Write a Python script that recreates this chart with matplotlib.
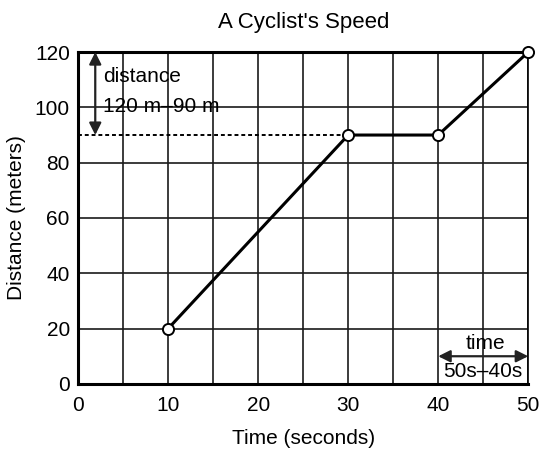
import matplotlib.pyplot as plt

plt.rcParams['font.family'] = ['Liberation Sans', 'DejaVu Sans']

time_s = [10, 30, 40, 50]
distance_m = [20, 90, 90, 120]
x_ticks = [0, 10, 20, 30, 40, 50]
y_ticks = [0, 20, 40, 60, 80, 100, 120]

fig = plt.figure(figsize=(5.39, 4.49), dpi=100)
ax = fig.add_axes([0.145, 0.145, 0.835, 0.739])

ax.set_xlim(0, 50)
ax.set_ylim(0, 120)
ax.set_yticks(y_ticks)
ax.set_xticks(x_ticks)
ax.set_xticks(range(5, 50, 10), minor=True)
ax.grid(True, which='both', color='#1a1a1a', linewidth=1.2)
ax.tick_params(which='both', length=0, labelsize=15, pad=6)
ax.tick_params(axis='x', pad=9)
for s in ax.spines.values():
    s.set_linewidth(2.2)
ax.spines['right'].set_linewidth(1.2)

# dotted guide at 90 m
ax.plot([0, 30], [90, 90], color='black', linestyle=(0, (2, 1.5)), linewidth=1.4, zorder=3)

ax.plot(time_s, distance_m, color='black', linewidth=2.2, zorder=4,
        marker='o', markersize=8, markerfacecolor='white', markeredgecolor='black',
        markeredgewidth=1.4, clip_on=False)

# distance annotation
ax.annotate('', xy=(1.9, 90), xytext=(1.9, 120),
            arrowprops=dict(arrowstyle='<|-|>', color='#222222', lw=1.6, mutation_scale=18,
                            shrinkA=0, shrinkB=0))
ax.text(2.8, 111, 'distance', fontsize=15, va='center', ha='left')
ax.text(2.8, 100.5, '120 m\u201390 m', fontsize=15, va='center', ha='left')

# time annotation
ax.annotate('', xy=(40, 10), xytext=(50, 10),
            arrowprops=dict(arrowstyle='<|-|>', color='#222222', lw=1.6, mutation_scale=18,
                            shrinkA=0, shrinkB=0))
ax.text(45.3, 14.5, 'time', fontsize=15, va='center', ha='center')
ax.text(45.0, 4.5, '50s\u201340s', fontsize=15, va='center', ha='center')

ax.set_title("A Cyclist's Speed", fontsize=16, pad=17)
ax.set_xlabel('Time (seconds)', fontsize=15, labelpad=10)
ax.set_ylabel('Distance (meters)', fontsize=15, labelpad=6)

fig.savefig('out.png', dpi=100)
